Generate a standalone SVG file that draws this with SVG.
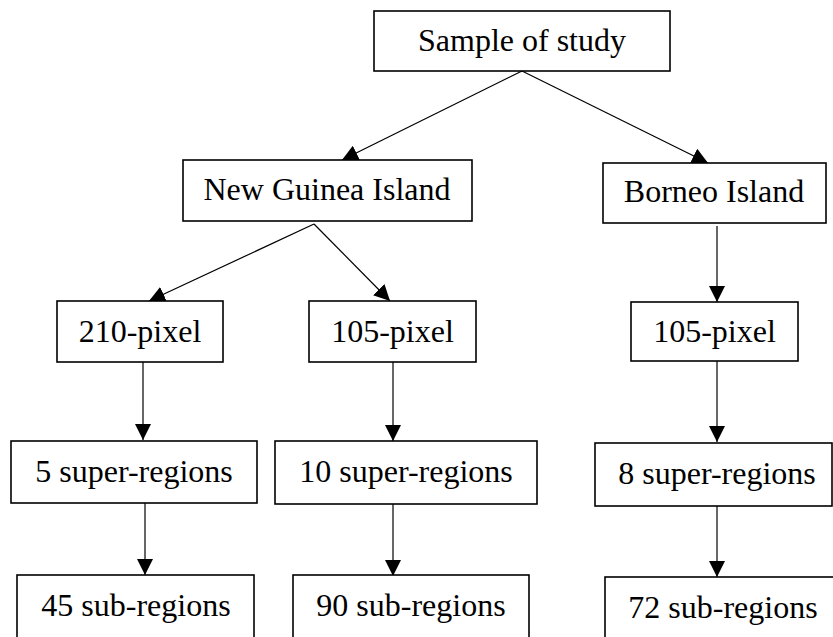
<svg xmlns="http://www.w3.org/2000/svg" width="833" height="637" viewBox="0 0 833 637">
<style>
.box{fill:#fff;stroke:#000;stroke-width:1.6}
.lbl{font-family:"Liberation Serif","Times New Roman",serif;font-size:32px;fill:#000;text-anchor:middle}
.con{stroke:#000;stroke-width:1.2;fill:none;marker-end:url(#ah)}
</style>
<defs>
<marker id="ah" markerUnits="userSpaceOnUse" markerWidth="16" markerHeight="16" viewBox="0 0 14 14" refX="14" refY="7" orient="auto">
<path d="M0,0 L14,7 L0,14 Z" fill="#000"/>
</marker>
</defs>
<rect width="833" height="637" fill="#fff"/>
<g id="connectors">
<line class="con" x1="522" y1="71" x2="342" y2="160"/>
<line class="con" x1="522" y1="71" x2="708" y2="163"/>
<line class="con" x1="314" y1="224" x2="149" y2="301"/>
<line class="con" x1="314" y1="224" x2="390" y2="301"/>
<line class="con" x1="143" y1="362" x2="143" y2="440"/>
<line class="con" x1="393" y1="362" x2="393" y2="441"/>
<line class="con" x1="717" y1="226" x2="717" y2="302"/>
<line class="con" x1="717" y1="361" x2="717" y2="442"/>
<line class="con" x1="145" y1="503" x2="145" y2="575"/>
<line class="con" x1="393" y1="504" x2="393" y2="576"/>
<line class="con" x1="717" y1="506" x2="717" y2="577"/>
</g>
<g id="sample"><rect class="box" x="374" y="11" width="296" height="60"/><text class="lbl" x="522" y="51">Sample of study</text></g>
<g id="newguinea"><rect class="box" x="183" y="160" width="289" height="61"/><text class="lbl" x="327" y="200">New Guinea Island</text></g>
<g id="borneo"><rect class="box" x="603" y="163" width="223" height="60"/><text class="lbl" x="714" y="202">Borneo Island</text></g>
<g id="ng210"><rect class="box" x="57" y="301" width="166" height="61"/><text class="lbl" x="140" y="342">210-pixel</text></g>
<g id="ng105"><rect class="box" x="309" y="301" width="167" height="61"/><text class="lbl" x="392.5" y="342">105-pixel</text></g>
<g id="bo105"><rect class="box" x="631" y="302" width="167" height="59"/><text class="lbl" x="714.5" y="342">105-pixel</text></g>
<g id="ng210super"><rect class="box" x="11" y="441" width="246" height="62"/><text class="lbl" x="134" y="482">5 super-regions</text></g>
<g id="ng105super"><rect class="box" x="275" y="441" width="262" height="63"/><text class="lbl" x="406" y="482">10 super-regions</text></g>
<g id="bosuper"><rect class="box" x="595" y="443" width="237" height="63"/><text class="lbl" x="717" y="484">8 super-regions</text></g>
<g id="ng210sub"><rect class="box" x="17" y="575" width="237" height="80"/><text class="lbl" x="136" y="616">45 sub-regions</text></g>
<g id="ng105sub"><rect class="box" x="293" y="575" width="236" height="80"/><text class="lbl" x="411" y="616">90 sub-regions</text></g>
<g id="bosub"><rect class="box" x="605" y="577" width="240" height="80"/><text class="lbl" x="723" y="618">72 sub-regions</text></g>
</svg>
